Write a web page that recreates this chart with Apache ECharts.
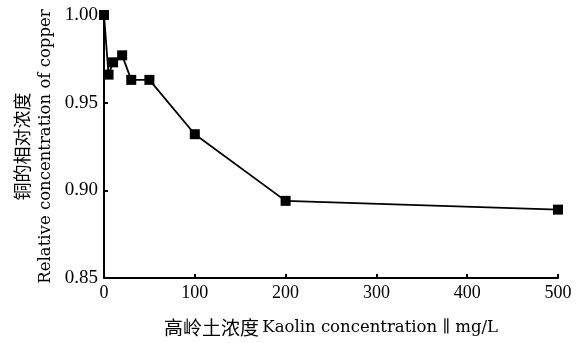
<!DOCTYPE html>
<html>
<head>
<meta charset="utf-8">
<script src="https://cdn.jsdelivr.net/npm/echarts@6/dist/echarts.min.js"></script>
<style>
  html, body { margin: 0; padding: 0; background: #fff; }
  #chart { width: 584px; height: 343px; }
</style>
</head>
<body>
<div id="chart"></div>
<script>
// Kaolin concentration (mg/L) and relative copper concentration
const kaolin = [0, 5, 10, 20, 30, 50, 100, 200, 500];
const relCopper = [1.000, 0.966, 0.973, 0.977, 0.963, 0.963, 0.932, 0.894, 0.889];

const xTicks = [0, 100, 200, 300, 400, 500];
const yTicks = [0.85, 0.90, 0.95, 1.00];

const digitFont = '"Liberation Serif", serif';
const latinFont = '"DejaVu Serif", serif';
const cjkFont = '"Noto Sans CJK SC", sans-serif';

const chart = echarts.init(document.getElementById('chart'), null, { renderer: 'canvas' });

chart.setOption({
  animation: false,
  backgroundColor: '#fff',
  grid: { left: 104, right: 26, top: 15, bottom: 65, containLabel: false },
  xAxis: {
    type: 'value',
    min: xTicks[0],
    max: xTicks[xTicks.length - 1],
    interval: 100,
    axisLine: { show: true, lineStyle: { color: '#000', width: 2 } },
    axisTick: { show: true, inside: true, length: 4, lineStyle: { color: '#000', width: 2 } },
    splitLine: { show: false },
    axisLabel: { color: '#000', fontFamily: digitFont, fontSize: 18, margin: 6 },
    name: '{cn|高岭土浓度} {en|Kaolin concentration ∥ mg/L}',
    nameLocation: 'middle',
    nameGap: 40,
    nameTextStyle: {
      rich: {
        cn: { fontFamily: cjkFont, fontSize: 19, color: '#000' },
        en: { fontFamily: latinFont, fontSize: 16.5, color: '#000' }
      }
    }
  },
  yAxis: {
    type: 'value',
    min: yTicks[0],
    max: yTicks[yTicks.length - 1],
    interval: 0.05,
    axisLine: { show: true, lineStyle: { color: '#000', width: 2 } },
    axisTick: { show: true, inside: true, length: 4, lineStyle: { color: '#000', width: 2 } },
    splitLine: { show: false },
    axisLabel: {
      color: '#000', fontFamily: digitFont, fontSize: 19, margin: 6,
      formatter: v => v.toFixed(2)
    },
    name: '{cn|铜的相对浓度}\n{en|Relative concentration of copper}',
    nameLocation: 'middle',
    nameGap: 47,
    nameTextStyle: {
      rich: {
        cn: { fontFamily: cjkFont, fontSize: 18, color: '#000', lineHeight: 23 },
        en: { fontFamily: latinFont, fontSize: 16.5, color: '#000', lineHeight: 23 }
      }
    }
  },
  series: [{
    type: 'line',
    data: kaolin.map((x, i) => [x, relCopper[i]]),
    symbol: 'rect',
    symbolSize: 10,
    showAllSymbol: true,
    clip: false,
    lineStyle: { color: '#000', width: 1.8 },
    itemStyle: { color: '#000' }
  }]
});
</script>
</body>
</html>
